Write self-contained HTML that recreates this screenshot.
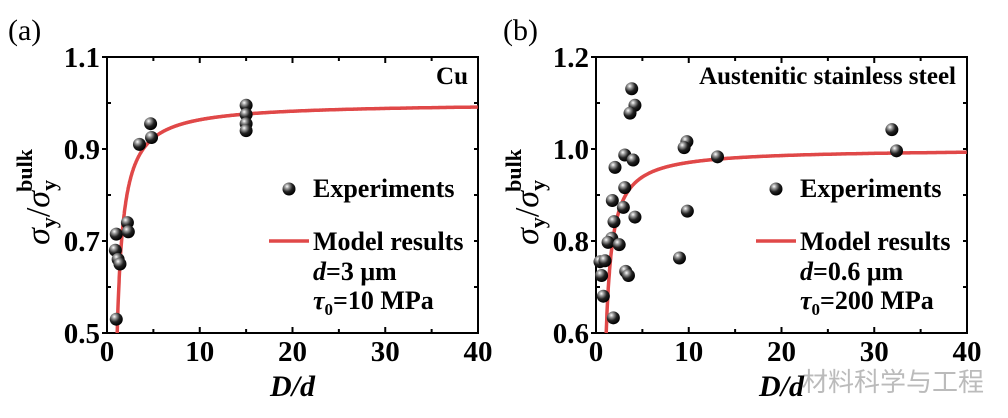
<!DOCTYPE html>
<html><head><meta charset="utf-8"><style>
html,body{margin:0;padding:0;background:#fff;}
svg{display:block;}
svg text{font-family:"Liberation Serif","Noto Serif CJK SC",serif;}
</style></head><body>
<svg id="chart" width="1008" height="418" viewBox="0 0 1008 418" xmlns="http://www.w3.org/2000/svg">
<defs>
<radialGradient id="ball" cx="0.35" cy="0.3" r="0.7">
<stop offset="0" stop-color="#fff"/><stop offset="0.25" stop-color="#999"/><stop offset="0.6" stop-color="#222"/><stop offset="1" stop-color="#000"/>
</radialGradient>
</defs>
<text x="8" y="40" font-size="30" font-family="Liberation Serif, serif">(a)</text>
<text x="503" y="40" font-size="30" font-family="Liberation Serif, serif">(b)</text>
<text x="893" y="391" font-size="26" fill="#bbb" text-anchor="middle" style="font-family:'Noto Sans CJK SC',sans-serif">材料科学与工程</text>
<g id="pa"></g>
<g id="pb"></g>
</svg>
<script>
const xTicks=[0,10,20,30,40];
const aYTicks=[0.5,0.7,0.9,1.1];
const bYTicks=[0.6,0.8,1.0,1.2];
const aYLabels=["0.5","0.7","0.9","1.1"];
const bYLabels=["0.6","0.8","1.0","1.2"];
const aX=[1.0,0.9,1.0,1.2,1.4,2.2,2.3,3.5,4.7,4.8,15,15,15,15];
const aY=[0.53,0.68,0.715,0.66,0.65,0.74,0.72,0.91,0.955,0.925,0.995,0.975,0.955,0.94];
const bX=[3.85,4.2,3.67,9.8,9.5,3.1,4.0,13.1,31.9,32.4,2.05,3.1,1.76,2.95,9.85,4.2,1.94,1.7,1.3,2.5,0.43,0.97,9.0,3.2,3.5,0.6,0.79,1.87];
const bY=[1.131,1.095,1.078,1.016,1.003,0.987,0.976,0.983,1.042,0.996,0.96,0.916,0.888,0.873,0.865,0.852,0.842,0.806,0.797,0.792,0.755,0.757,0.763,0.734,0.725,0.725,0.68,0.633];
const aModel=[0.35,0.4];
const bModel=[0.28,0.4];
const NS="http://www.w3.org/2000/svg";
const FF="Liberation Serif, serif";
function mk(p,t,a){const e=document.createElementNS(NS,t);for(const k in a)e.setAttribute(k,a[k]);if(t==='text')e.setAttribute('font-family',FF);p.appendChild(e);return e;}
function panel(g,L,R,yMin,yMax,ticks,labels,xs,ys,model,title,legendX,params,titleX,titleSize){
  const T=57,B=333;
  const sx=v=>L+(v-0)/40*(R-L), sy=v=>B-(v-yMin)/(yMax-yMin)*(B-T);
  const frame=mk(g,'rect',{x:L,y:T,width:R-L,height:B-T,fill:'none',stroke:'#000','stroke-width':2});
  
  
  for(let i=0;i<=8;i++){const v=i*5,x=sx(v),len=i%2?4:6;
    mk(g,'line',{x1:x,y1:B,x2:x,y2:B-len,stroke:'#000','stroke-width':2});
    mk(g,'line',{x1:x,y1:T,x2:x,y2:T+len,stroke:'#000','stroke-width':2});}
  xTicks.forEach(v=>{const t=mk(g,'text',{x:sx(v),y:B+28,'font-size':29,'font-weight':'bold','text-anchor':'middle'});t.textContent=v;
    
    });
  const step=(yMax-yMin)/6;
  for(let i=0;i<=6;i++){const y=sy(yMin+i*step);const maj=i%2==0;
    mk(g,'line',{x1:L-(maj?5:0),y1:y,x2:L+(maj?0:4),y2:y,stroke:'#000','stroke-width':2});
    mk(g,'line',{x1:R,y1:y,x2:R-4,y2:y,stroke:'#000','stroke-width':2});}
  ticks.forEach((v,i)=>{const t=mk(g,'text',{x:L-7,y:sy(v)+10,'font-size':29,'font-weight':'bold','text-anchor':'end'});t.textContent=labels[i];
    
    });
  const xt=mk(g,'text',{x:(L+R)/2,y:396,'font-size':30,'font-weight':'bold','font-style':'italic','text-anchor':'middle'});xt.textContent='D/d';
  
  
  const yt=mk(g,'text',{transform:`translate(${L-58},${(T+B)/2+2}) rotate(-90)`,'font-size':34,'text-anchor':'middle'});
  yt.innerHTML='<tspan font-style="italic">σ</tspan><tspan font-size="22" dy="7" font-weight="bold">y</tspan><tspan dy="-7">/</tspan><tspan font-style="italic">σ</tspan><tspan font-size="22" dy="7" font-weight="bold">y</tspan><tspan font-size="22" dy="-24" dx="-12" font-weight="bold">bulk</tspan>';
  
  
  let d='';for(let x=1.0;x<=40;x+=0.02){const y=1-model[0]/(x-model[1]);if(y<yMin)continue;d+=(d?'L':'M')+sx(x).toFixed(1)+','+sy(y).toFixed(1);}
  const c=mk(g,'path',{d:d,fill:'none',stroke:'#e04848','stroke-width':3.5});
  
  
  xs.forEach((x,i)=>{const p=mk(g,'circle',{cx:sx(x),cy:sy(ys[i]),r:6.5,fill:'url(#ball)'});
    
    });
  const tt=mk(g,'text',{x:titleX,y:84,'font-size':titleSize,'font-weight':'bold','text-anchor':'end'});tt.textContent=title;
  
  
  const lm=mk(g,'circle',{cx:legendX+8,cy:189,r:6.5,fill:'url(#ball)'});
  
  
  const l1=mk(g,'text',{x:legendX+32,y:197,'font-size':26,'font-weight':'bold'});l1.textContent='Experiments';
  
  
  const ll=mk(g,'line',{x1:legendX-12,y1:241,x2:legendX+28,y2:241,stroke:'#e04848','stroke-width':3.5});
  
  
  const l2=mk(g,'text',{x:legendX+32,y:250,'font-size':26,'font-weight':'bold'});l2.textContent='Model results';
  
  
  const p1=mk(g,'text',{x:legendX+32,y:280,'font-size':26,'font-weight':'bold'});p1.innerHTML='<tspan font-style="italic">d</tspan>='+params[0];
  
  
  const p2=mk(g,'text',{x:legendX+32,y:309,'font-size':26,'font-weight':'bold'});p2.innerHTML='<tspan font-style="italic">τ</tspan><tspan font-size="17" dy="6">0</tspan><tspan dy="-6">='+params[1]+'</tspan>';
  
  
}
panel(document.getElementById('pa'),107,478,0.5,1.1,aYTicks,aYLabels,aX,aY,aModel,'Cu',281,['3 μm','10 MPa'],468,25);
panel(document.getElementById('pb'),596,967,0.6,1.2,bYTicks,bYLabels,bX,bY,bModel,'Austenitic stainless steel',768,['0.6 μm','200 MPa'],956,25);
</script>
</body></html>
